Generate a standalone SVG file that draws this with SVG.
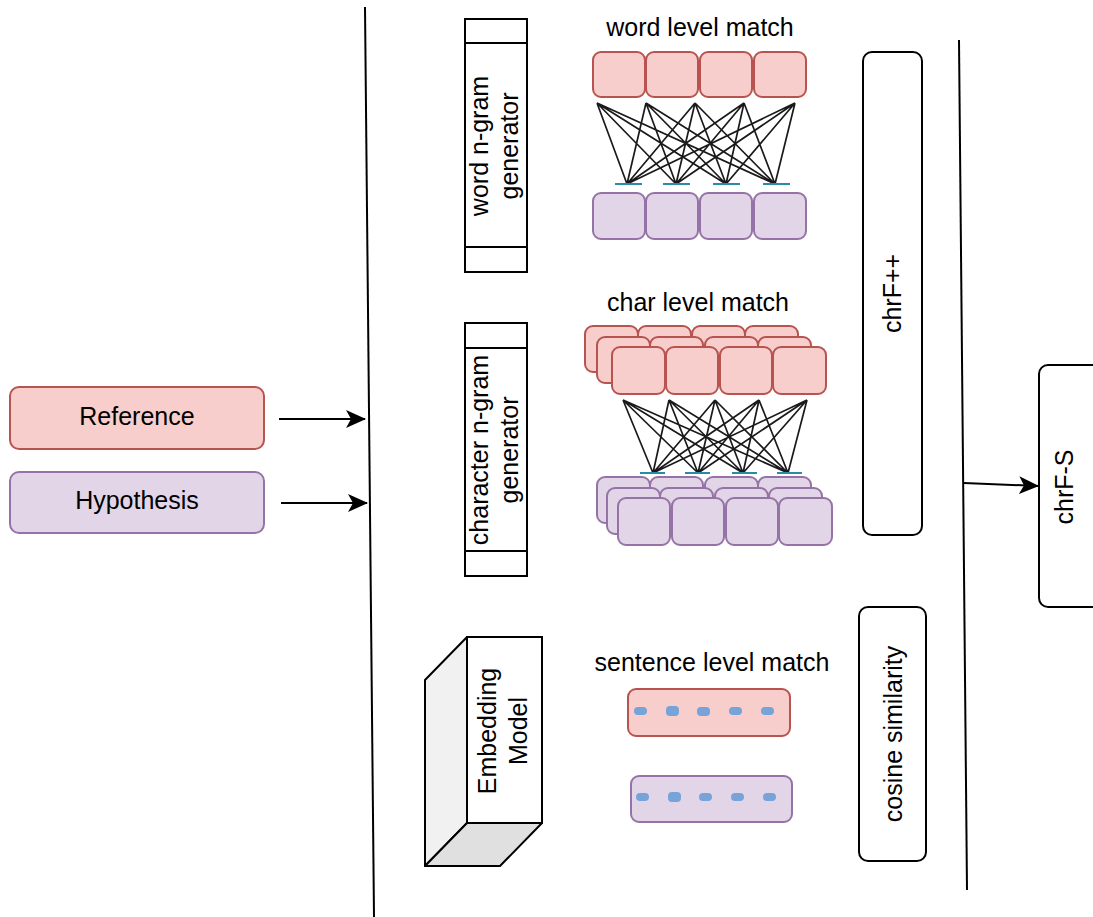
<svg xmlns="http://www.w3.org/2000/svg" width="1093" height="917" viewBox="0 0 1093 917">
<style>
text{font-family:"Liberation Sans",Arial,sans-serif;font-size:25px;fill:#000}
.red{fill:#f8cecc;stroke:#b85450;stroke-width:2}
.pur{fill:#e1d5e7;stroke:#9673a6;stroke-width:2}
.blk{fill:#fff;stroke:#000;stroke-width:2}
.web{fill:none;stroke:#1a1a1a;stroke-width:1.7}
.teal{stroke:#2b8aa8;stroke-width:2.2}
.dash{fill:#76a3d8}
.conn{fill:none;stroke:#000;stroke-width:2}
</style>
<defs>
<marker id="arr" viewBox="0 0 20 18" refX="19" refY="9" markerWidth="20" markerHeight="18" markerUnits="userSpaceOnUse" orient="auto">
<path d="M0,0 L20,9 L0,18 L5,9 Z" fill="#000"/>
</marker>
</defs>
<rect width="1093" height="917" fill="#fff"/>

<g id="node-reference">
<rect class="red" x="10" y="387" width="254" height="62" rx="9"/>
<text x="137" y="425" text-anchor="middle">Reference</text>
</g>
<g id="node-hypothesis">
<rect class="pur" x="10" y="472" width="254" height="61" rx="9"/>
<text x="137" y="509" text-anchor="middle">Hypothesis</text>
</g>

<g id="node-word-generator">
<rect class="blk" x="465" y="19" width="62" height="253"/>
<path d="M465,43 H527 M465,247 H527" stroke="#000" stroke-width="2"/>
<text transform="translate(496,146) rotate(-90)" text-anchor="middle"><tspan x="0" y="-8.5">word n-gram</tspan><tspan x="0" y="21.5">generator</tspan></text>
</g>

<g id="node-char-generator">
<rect class="blk" x="465" y="323" width="62" height="253"/>
<path d="M465,348 H527 M465,551 H527" stroke="#000" stroke-width="2"/>
<text transform="translate(496,450) rotate(-90)" text-anchor="middle"><tspan x="0" y="-8.5">character n-gram</tspan><tspan x="0" y="21.5">generator</tspan></text>
</g>

<g id="node-embedding">
<polygon points="425,680 467,637 467,823 425,866" fill="#f1f1f1" stroke="#000" stroke-width="2" stroke-linejoin="round"/>
<polygon points="467,823 542,823 500,866 425,866" fill="#e0e0e0" stroke="#000" stroke-width="2" stroke-linejoin="round"/>
<rect class="blk" x="467" y="637" width="75" height="186"/>
<text transform="translate(504.5,731) rotate(-90)" text-anchor="middle"><tspan x="0" y="-8.5">Embedding</tspan><tspan x="0" y="22">Model</tspan></text>
</g>

<g id="node-word-match">
<text x="700" y="36" text-anchor="middle">word level match</text>
<rect class="red" x="593" y="52" width="52" height="45" rx="8"/>
<rect class="red" x="646" y="52" width="52" height="45" rx="8"/>
<rect class="red" x="700" y="52" width="52" height="45" rx="8"/>
<rect class="red" x="754" y="52" width="52" height="45" rx="8"/>
<path class="web" d="M597,103 L627,184 M597,103 L676,184 M597,103 L726,184 M597,103 L775,184 M646,103 L627,184 M646,103 L676,184 M646,103 L726,184 M646,103 L775,184 M695,103 L627,184 M695,103 L676,184 M695,103 L726,184 M695,103 L775,184 M744,103 L627,184 M744,103 L676,184 M744,103 L726,184 M744,103 L775,184 M795,103 L627,184 M795,103 L676,184 M795,103 L726,184 M795,103 L775,184"/>
<path class="teal" d="M615,184 H642 M663,184 H690 M713,184 H740 M763,184 H790"/>
<rect class="pur" x="593" y="193" width="52" height="46" rx="8"/>
<rect class="pur" x="646" y="193" width="52" height="46" rx="8"/>
<rect class="pur" x="700" y="193" width="52" height="46" rx="8"/>
<rect class="pur" x="754" y="193" width="52" height="46" rx="8"/>
</g>

<g id="node-char-match">
<text x="698" y="311" text-anchor="middle">char level match</text>
<rect class="red" x="585" y="326" width="53" height="46" rx="8"/>
<rect class="red" x="638" y="326" width="53" height="46" rx="8"/>
<rect class="red" x="692" y="326" width="53" height="46" rx="8"/>
<rect class="red" x="745" y="326" width="53" height="46" rx="8"/>
<rect class="red" x="597" y="337" width="53" height="46" rx="8"/>
<rect class="red" x="650" y="337" width="53" height="46" rx="8"/>
<rect class="red" x="705" y="337" width="53" height="46" rx="8"/>
<rect class="red" x="758" y="337" width="53" height="46" rx="8"/>
<rect class="red" x="612" y="347" width="53" height="47" rx="8"/>
<rect class="red" x="666" y="347" width="52" height="47" rx="8"/>
<rect class="red" x="720" y="347" width="52" height="47" rx="8"/>
<rect class="red" x="773" y="347" width="53" height="47" rx="8"/>
<path class="web" d="M623,400 L653,473 M623,400 L698,473 M623,400 L743,473 M623,400 L788,473 M669,400 L653,473 M669,400 L698,473 M669,400 L743,473 M669,400 L788,473 M715,400 L653,473 M715,400 L698,473 M715,400 L743,473 M715,400 L788,473 M759,400 L653,473 M759,400 L698,473 M759,400 L743,473 M759,400 L788,473 M807,400 L653,473 M807,400 L698,473 M807,400 L743,473 M807,400 L788,473"/>
<path class="teal" d="M640,473 H665 M685,473 H710 M732,473 H757 M777,473 H802"/>
<rect class="pur" x="597" y="477" width="53" height="46" rx="8"/>
<rect class="pur" x="650" y="477" width="53" height="46" rx="8"/>
<rect class="pur" x="705" y="477" width="53" height="46" rx="8"/>
<rect class="pur" x="758" y="477" width="53" height="46" rx="8"/>
<rect class="pur" x="607" y="488" width="53" height="46" rx="8"/>
<rect class="pur" x="660" y="488" width="53" height="46" rx="8"/>
<rect class="pur" x="715" y="488" width="53" height="46" rx="8"/>
<rect class="pur" x="769" y="488" width="53" height="46" rx="8"/>
<rect class="pur" x="618" y="498" width="52" height="47" rx="8"/>
<rect class="pur" x="672" y="498" width="52" height="47" rx="8"/>
<rect class="pur" x="726" y="498" width="52" height="47" rx="8"/>
<rect class="pur" x="779" y="498" width="53" height="47" rx="8"/>
</g>

<g id="node-sentence-match">
<text x="712" y="671" text-anchor="middle">sentence level match</text>
<rect class="red" x="628" y="689" width="162" height="47" rx="8"/>
<rect class="dash" x="634" y="707" width="13" height="8" rx="4"/>
<rect class="dash" x="666" y="706" width="13" height="10" rx="4"/>
<rect class="dash" x="697" y="707" width="13" height="9" rx="4"/>
<rect class="dash" x="729" y="707" width="13" height="8" rx="4"/>
<rect class="dash" x="761" y="707" width="13" height="8" rx="4"/>
<rect class="pur" x="631" y="776" width="161" height="46" rx="8"/>
<rect class="dash" x="636" y="793" width="13" height="8" rx="4"/>
<rect class="dash" x="668" y="792" width="13" height="10" rx="4"/>
<rect class="dash" x="699" y="793" width="13" height="8" rx="4"/>
<rect class="dash" x="731" y="793" width="13" height="8" rx="4"/>
<rect class="dash" x="763" y="793" width="13" height="8" rx="4"/>
</g>

<g id="node-chrfpp">
<rect class="blk" x="863" y="52" width="59" height="483" rx="9"/>
<text transform="translate(892.5,293.5) rotate(-90)" text-anchor="middle" y="8">chrF++</text>
</g>

<g id="node-cosine">
<rect class="blk" x="859" y="607" width="67" height="254" rx="9"/>
<text transform="translate(892.5,734) rotate(-90)" text-anchor="middle" y="9">cosine similarity</text>
</g>

<g id="node-chrfs">
<rect class="blk" x="1039" y="365" width="70" height="242" rx="9"/>
<text transform="translate(1065,487) rotate(-90)" text-anchor="middle" y="8">chrF-S</text>
</g>

<g id="connectors">
<line class="conn" x1="365" y1="7" x2="374" y2="917"/>
<line class="conn" x1="959" y1="40" x2="967" y2="890"/>
<line class="conn" x1="279" y1="419" x2="365" y2="419" marker-end="url(#arr)"/>
<line class="conn" x1="281" y1="503" x2="367" y2="503" marker-end="url(#arr)"/>
<line class="conn" x1="964" y1="483" x2="1038" y2="486" marker-end="url(#arr)"/>
</g>
</svg>
